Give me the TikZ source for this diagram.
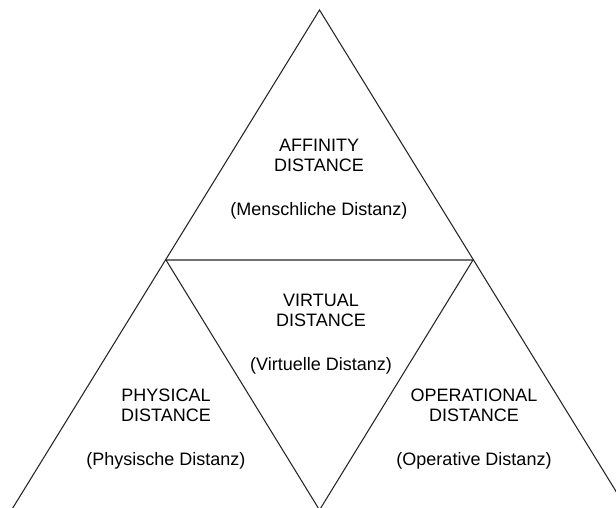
\documentclass[tikz,border=0pt]{standalone}
\usepackage{fontspec}
\setmainfont{Liberation Sans}
\usetikzlibrary{positioning}

\begin{document}
\begin{tikzpicture}[
  x=0.75pt, y=-0.75pt,
  edge/.style={draw=black!85, line width=0.8pt},
  lbl/.style={align=center, inner sep=0pt,
              font=\fontsize{13.5}{15.4}\selectfont}
]
\useasboundingbox (0,0) rectangle (616,507);
\clip (0,0) rectangle (616,507);

% corners of the pyramid
\coordinate (apex) at (319.5,10);
\coordinate (ml)   at (166,260);
\coordinate (mr)   at (473,260);
\coordinate (bl)   at (11.5,510);
\coordinate (bm)   at (319.5,510);
\coordinate (br)   at (627.5,510);

\draw[edge] (apex) -- (bl) -- (br) -- cycle;
\draw[edge] (ml) -- (mr) -- (bm) -- cycle;

\node[lbl] (affinity)    at (319,179) {AFFINITY\\DISTANCE\\[17.5pt](Menschliche Distanz)};
\node[lbl] (virtual)     at (321,334) {VIRTUAL\\DISTANCE\\[17.5pt](Virtuelle Distanz)};
\node[lbl] (physical)    at (166,429) {PHYSICAL\\DISTANCE\\[17.5pt](Physische Distanz)};
\node[lbl] (operational) at (474,429) {OPERATIONAL\\DISTANCE\\[17.5pt](Operative Distanz)};
\end{tikzpicture}
\end{document}
